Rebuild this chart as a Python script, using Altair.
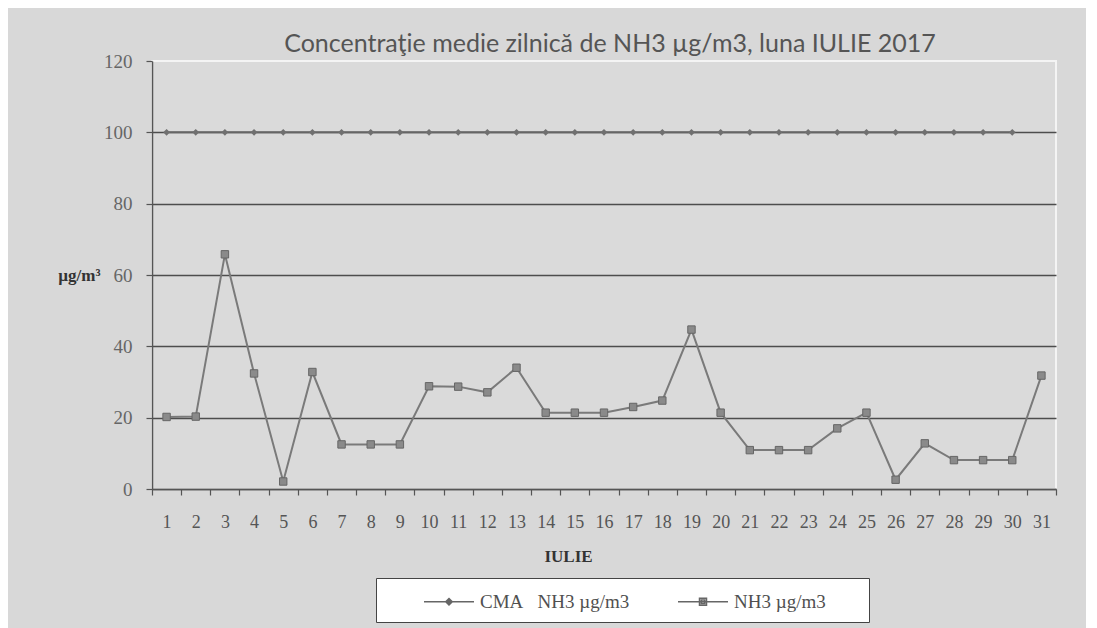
import altair as alt
import pandas as pd

days = list(range(1, 32))
nh3 = [20.2, 20.3, 65.8, 32.4, 2.1, 32.8, 12.5, 12.5, 12.5, 28.8, 28.7, 27.1, 34.0, 21.4,
       21.4, 21.4, 23.0, 24.8, 44.7, 21.4, 10.9, 10.9, 10.9, 17.0, 21.4, 2.6, 12.8, 8.1,
       8.1, 8.1, 31.8]
cma_days = list(range(1, 31))
cma = [100, 100, 100, 100, 100, 100, 100, 100, 100, 100, 100, 100, 100, 100, 100,
       100, 100, 100, 100, 100, 100, 100, 100, 100, 100, 100, 100, 100, 100, 100]

S_CMA = "CMA\u00a0\u00a0\u00a0NH3 \u00b5g/m3"
S_NH3 = "NH3 \u00b5g/m3" + "\u00a0" * 7 + "\u200b"

rows = [{"day": d, "value": v, "series": S_CMA} for d, v in zip(cma_days, cma)]
rows += [{"day": d, "value": v, "series": S_NH3} for d, v in zip(days, nh3)]
df = pd.DataFrame(rows)

title = "Concentraţie medie zilnică de NH3 µg/m3, luna IULIE 2017"
y_ticks = [0, 20, 40, 60, 80, 100, 120]

serif = "Liberation Serif"

x_enc = alt.X("day:O", scale=alt.Scale(type="band", paddingInner=0, paddingOuter=0),
              axis=alt.Axis(title="IULIE", labelAngle=0, tickBand="extent",
                            labelFont=serif, labelFontSize=18, labelColor="#555",
                            labelPadding=18, tickSize=6, tickColor="#555", tickWidth=1.2,
                            domainColor="#555", domainWidth=1.5,
                            titleFont=serif, titleFontSize=17, titleFontWeight="bold",
                            titleColor="#333", titleX=416, titleY=67,
                            titleBaseline="middle", titleAlign="center"))
y_enc = alt.Y("value:Q", scale=alt.Scale(domain=[0, 120], nice=False),
              axis=alt.Axis(title="µg/m³", values=y_ticks, titleAngle=0,
                            titleAlign="right", titleBaseline="middle",
                            titleX=-52, titleY=214, titleFont=serif,
                            titleFontSize=17, titleFontWeight="bold", titleColor="#333",
                            labelFont=serif, labelFontSize=19, labelColor="#666",
                            labelPadding=14, tickSize=6, tickColor="#555", tickWidth=1.2,
                            domainColor="#555", domainWidth=1.5,
                            grid=True, gridWidth=1.5,
                            gridColor={"condition": {"test": "datum.value === 120",
                                                     "value": "transparent"},
                                       "value": "#4d4d4d"}))

base = alt.Chart(df)

cma_df = df[df.series == S_CMA]
nh3_df = df[df.series == S_NH3]

cma_line = alt.Chart(cma_df).mark_line(color="#666", strokeWidth=2).encode(x=x_enc, y=y_enc)
cma_pts = alt.Chart(cma_df).mark_point(shape="diamond", filled=True, color="#707070", size=45, opacity=1).encode(x=x_enc, y=y_enc)
nh3_line = alt.Chart(nh3_df).mark_line(color="#7a7a7a", strokeWidth=2).encode(x=x_enc, y=y_enc)
nh3_pts = alt.Chart(nh3_df).mark_square(filled=True, color="#8a8a8a", stroke="#666", strokeWidth=1, size=55, opacity=1).encode(x=x_enc, y=y_enc)

legend_layer = base.transform_filter("false").mark_point(filled=False, color="#666", strokeWidth=1.5).encode(
    x=x_enc, y=y_enc,
    shape=alt.Shape("series:N",
                    scale=alt.Scale(domain=[S_CMA, S_NH3],
                                    range=["M-2,0H2M0,-0.26L0.26,0L0,0.26L-0.26,0ZM0,-0.12L0.12,0L0,0.12L-0.12,0Z",
                                           "M-2,0H2M-0.28,-0.28H0.28V0.28H-0.28ZM-0.14,-0.14H0.14V0.14H-0.14Z"]),
                    legend=alt.Legend(title=None, orient="none", legendX=224, legendY=517,
                                      direction="horizontal", symbolSize=625,
                                      symbolOffset=49.5, columnPadding=10, padding=10,
                                      labelOffset=17.5, labelFont=serif, labelFontSize=19,
                                      labelColor="#505050", labelLimit=400,
                                      symbolStrokeColor="#666", symbolFillColor="#888",
                                      symbolStrokeWidth=1.5, symbolOpacity=1,
                                      fillColor="white", strokeColor="#444",
                                      cornerRadius=0))
)

chart = alt.layer(cma_line, nh3_line, cma_pts, nh3_pts, legend_layer).properties(
    width=904, height=428,
    title=alt.Title(title, font="Lato", fontSize=25, fontWeight="normal", color="#555",
                    baseline="alphabetic", offset=9, dx=6, dy=34),
    autosize=alt.AutoSizeParams(type="none"),
    padding={"left": 144, "top": 53, "right": 30, "bottom": 140},
    background="#d8d8d8",
).configure_view(stroke="#f4f4f4", strokeWidth=2, fill="#dadada")

chart.save("out.html", embed_options={"renderer": "svg", "actions": False})
